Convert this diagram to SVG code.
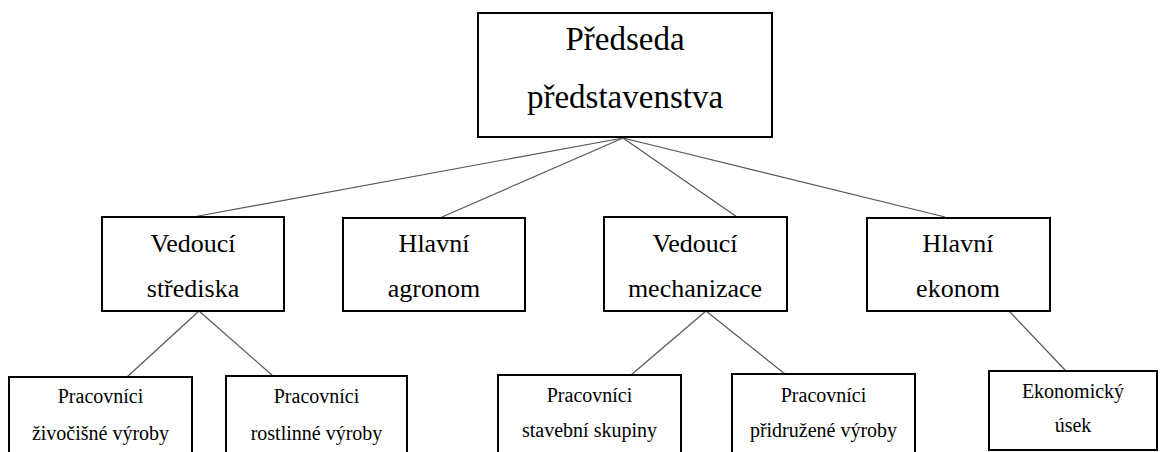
<svg xmlns="http://www.w3.org/2000/svg" width="1160" height="452" viewBox="0 0 1160 452">
<style>
.box{fill:#fff;stroke:#000;stroke-width:2}
text{font-family:'Liberation Serif','Times New Roman',Tinos,'DejaVu Serif',serif;fill:#000;text-anchor:middle}
.t1{font-size:33px}
.t2{font-size:26px}
.t3{font-size:20px}
.c line{stroke:#555;stroke-width:1.2}
</style>
<rect width="1160" height="452" fill="#fff"/>
<g id="connectors" class="c">
<line x1="623" y1="138" x2="193" y2="217"/>
<line x1="623" y1="138" x2="442" y2="217"/>
<line x1="623" y1="138" x2="737" y2="217"/>
<line x1="623" y1="138" x2="945" y2="217"/>
<line x1="199" y1="311" x2="127" y2="377"/>
<line x1="199" y1="311" x2="273" y2="376"/>
<line x1="706" y1="311" x2="631" y2="375"/>
<line x1="706" y1="311" x2="785" y2="374"/>
<line x1="1009" y1="311" x2="1066" y2="371"/>
</g>
<g id="n-predseda">
<rect class="box" x="478" y="13" width="294" height="124"/>
<text class="t1" x="625" y="50" font-family="Liberation Serif, serif">Předseda</text>
<text class="t1" x="625" y="108" font-family="Liberation Serif, serif">představenstva</text>
</g>
<g id="n-vedouci-strediska">
<rect class="box" x="102" y="217" width="182" height="94"/>
<text class="t2" x="193" y="252">Vedoucí</text>
<text class="t2" x="193" y="297">střediska</text>
</g>
<g id="n-hlavni-agronom">
<rect class="box" x="343" y="218" width="182" height="93"/>
<text class="t2" x="434" y="252">Hlavní</text>
<text class="t2" x="434" y="297">agronom</text>
</g>
<g id="n-vedouci-mechanizace">
<rect class="box" x="604" y="217" width="183" height="94"/>
<text class="t2" x="695" y="252">Vedoucí</text>
<text class="t2" x="695" y="297">mechanizace</text>
</g>
<g id="n-hlavni-ekonom">
<rect class="box" x="867" y="218" width="183" height="93"/>
<text class="t2" x="958" y="252">Hlavní</text>
<text class="t2" x="958" y="297">ekonom</text>
</g>
<g id="n-zivocisne">
<rect class="box" x="9" y="377" width="183" height="90"/>
<text class="t3" x="100.5" y="403">Pracovníci</text>
<text class="t3" x="100.5" y="440">živočišné výroby</text>
</g>
<g id="n-rostlinne">
<rect class="box" x="226" y="376" width="181" height="90"/>
<text class="t3" x="316.5" y="403">Pracovníci</text>
<text class="t3" x="316.5" y="440">rostlinné výroby</text>
</g>
<g id="n-stavebni">
<rect class="box" x="498" y="375" width="183" height="90"/>
<text class="t3" x="589.5" y="402">Pracovníci</text>
<text class="t3" x="589.5" y="437">stavební skupiny</text>
</g>
<g id="n-pridruzene">
<rect class="box" x="732" y="374" width="183" height="90"/>
<text class="t3" x="823.5" y="402">Pracovníci</text>
<text class="t3" x="823.5" y="437">přidružené výroby</text>
</g>
<g id="n-ekonomicky">
<rect class="box" x="989" y="371" width="168" height="79"/>
<text class="t3" x="1073" y="398">Ekonomický</text>
<text class="t3" x="1073" y="432">úsek</text>
</g>
</svg>
